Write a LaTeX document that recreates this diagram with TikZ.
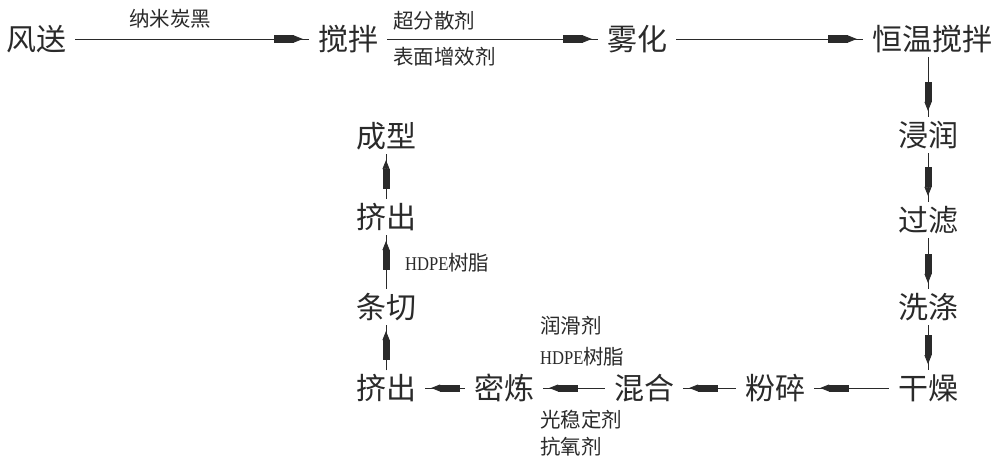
\documentclass[tikz,border=0pt]{standalone}
\usepackage{fontspec}
\setmainfont{Noto Sans CJK SC}
\newfontfamily\lat[FakeStretch=0.85]{Liberation Serif}
\usetikzlibrary{arrows.meta}
\definecolor{ink}{HTML}{2A2A2A}
\tikzset{
  stepnode/.style={inner xsep=9pt, inner ysep=4pt, font=\fontsize{30}{32}\selectfont, text=ink},
  lbl/.style={inner sep=0pt, font=\fontsize{20.5}{22}\selectfont, text=ink},
  conn/.style={draw=ink, line width=0.8pt},
  arr/.style={draw=ink, line width=0.8pt, -{Rectangle[length=20pt,width=7pt]Triangle[length=9pt,width=7pt]}, shorten >=6pt}
}
\newcommand{\hd}{{\lat\fontsize{19.5}{21}\selectfont HDPE}}
\begin{document}
\begin{tikzpicture}[x=1pt,y=-1pt]
\useasboundingbox[fill=white] (0,0) rectangle (1000,462);
% top row
\node[stepnode] (fs) at (36,39) {风送};
\node[stepnode] (jb) at (348,39) {搅拌};
\node[stepnode] (wh) at (637,39) {雾化};
\node[stepnode] (hw) at (932,39) {恒温搅拌};
% right column
\node[stepnode] (jr) at (928,135) {浸润};
\node[stepnode] (gl) at (928,220) {过滤};
\node[stepnode] (xd) at (928,307) {洗涤};
\node[stepnode] (gz) at (928,388) {干燥};
% bottom row
\node[stepnode] (fc) at (775,388) {粉碎};
\node[stepnode] (hh) at (644,388) {混合};
\node[stepnode] (ml) at (504,388) {密炼};
\node[stepnode] (jc1) at (386,388) {挤出};
% left column
\node[stepnode] (tq) at (386,307) {条切};
\node[stepnode] (jc2) at (386,217) {挤出};
\node[stepnode] (cx) at (386,136) {成型};
% labels
\node[lbl] (l1) at (170,19) {纳米炭黑};
\node[lbl, anchor=west] (l2) at (393,21) {超分散剂};
\node[lbl, anchor=west] (l3) at (393,57) {表面增效剂};
\node[lbl, anchor=west] (l4) at (405,263) {\hd 树脂};
\node[lbl, anchor=west] (l5) at (540,326) {润滑剂};
\node[lbl, anchor=west] (l6) at (540,357) {\hd 树脂};
\node[lbl, anchor=west] (l7) at (540,420) {光稳定剂};
\node[lbl, anchor=west] (l8) at (540,447) {抗氧剂};
% connectors
\coordinate (hwb) at (hw.south -| jr.north);
\foreach \a/\b in {fs/jb, jb/wh, wh/hw, hwb/jr, jr/gl, gl/xd, xd/gz, gz/fc, fc/hh, hh/ml, ml/jc1, jc1/tq, tq/jc2, jc2/cx}{
  \draw[conn] (\a) -- (\b);
  \draw[arr] (\a) -- (\b);
}
\end{tikzpicture}
\end{document}
